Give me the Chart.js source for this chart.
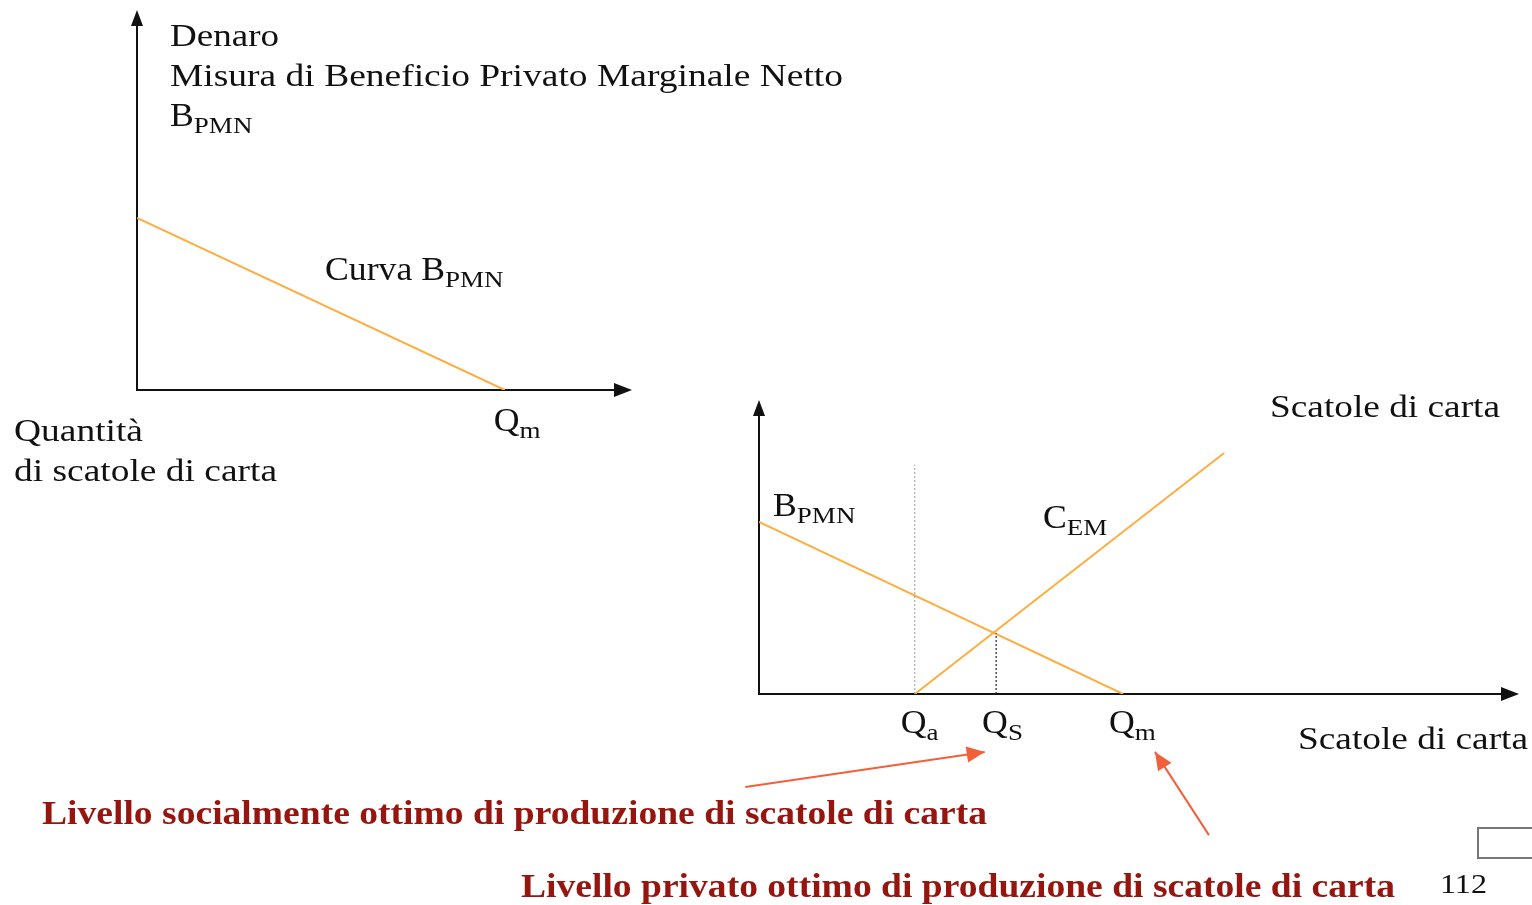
<!DOCTYPE html>
<html>
<head>
<meta charset="utf-8">
<script src="https://cdn.jsdelivr.net/npm/chart.js@4"></script>
<style>
  html, body { margin: 0; padding: 0; background: #fff; }
  #wrap { position: relative; width: 1532px; height: 905px; overflow: hidden; }
  canvas { position: absolute; left: 0; top: 0; }
</style>
</head>
<body>
<div id="wrap">
  <canvas id="topChart" width="1532" height="905"></canvas>
  <canvas id="botChart" width="1532" height="905"></canvas>
</div>
<script>
// ---- data (x = quantity, y = money) ----
const topBpmnQ = [0, 7.43];       // curva B_PMN, upper diagram
const topBpmnV = [4.53, 0];
const topQm = 7.43;

const botBpmnQ = [0, 4.79];       // B_PMN, lower diagram
const botBpmnV = [5.85, 0];
const cemQ = [2.05, 6.12];        // C_EM
const cemV = [0, 8.2];
const qaLineQ = [2.05, 2.05];     // dotted guide at Q_a
const qaLineV = [0, 7.8];
const qsLineQ = [3.12, 3.12];     // dotted guide at Q_S
const qsLineV = [0, 2.07];
const botTicks = [
  { q: 2.05, main: 'Q', sub: 'a' },
  { q: 3.12, main: 'Q', sub: 'S' },
  { q: 4.79, main: 'Q', sub: 'm' }
];
// red callout arrows, in lower-chart data units
const arrowSocial = { from: [-0.18, -3.16], to: [2.97, -1.97] };
const arrowPrivate = { from: [5.92, -4.8], to: [5.21, -1.97] };

const curveColor = '#ffad40';
const redText = '#96150f';
const arrowColor = '#f2603a';
const serif = '"Liberation Serif", "DejaVu Serif", serif';

function pts(xs, ys) {
  return xs.map((x, i) => ({ x: x, y: ys[i] }));
}

// text squeezed/stretched horizontally to a target width
function fitText(ctx, str, x, y, font, width, color) {
  ctx.save();
  ctx.font = font;
  ctx.fillStyle = color || '#111';
  ctx.textBaseline = 'alphabetic';
  const w = ctx.measureText(str).width;
  const k = width ? width / w : 1;
  ctx.translate(x, y);
  ctx.scale(k, 1);
  ctx.fillText(str, 0, 0);
  ctx.restore();
}

// main text with a subscript after it
function subText(ctx, main, sub, x, y) {
  ctx.save();
  ctx.fillStyle = '#111';
  ctx.textBaseline = 'alphabetic';
  ctx.translate(x, y);
  ctx.scale(1.05, 1);
  ctx.font = '34px ' + serif;
  ctx.fillText(main, 0, 0);
  const w = ctx.measureText(main).width;
  ctx.translate(w, 7);
  ctx.scale(1.12, 1);
  ctx.font = '23px ' + serif;
  ctx.fillText(sub, 0, 0);
  ctx.restore();
}

function arrowHead(ctx, x1, y1, x2, y2, len, half) {
  const a = Math.atan2(y2 - y1, x2 - x1);
  ctx.beginPath();
  ctx.moveTo(x2, y2);
  ctx.lineTo(x2 - len * Math.cos(a) + half * Math.sin(a), y2 - len * Math.sin(a) - half * Math.cos(a));
  ctx.lineTo(x2 - len * Math.cos(a) - half * Math.sin(a), y2 - len * Math.sin(a) + half * Math.cos(a));
  ctx.closePath();
  ctx.fill();
}

function drawAxes(chart) {
  const ctx = chart.ctx;
  const a = chart.chartArea;
  ctx.save();
  ctx.strokeStyle = '#111';
  ctx.fillStyle = '#111';
  ctx.lineWidth = 2;
  ctx.beginPath();
  ctx.moveTo(a.left, a.top + 10);
  ctx.lineTo(a.left, a.bottom);
  ctx.lineTo(a.right - 12, a.bottom);
  ctx.stroke();
  arrowHead(ctx, a.left, a.bottom, a.left, a.top, 16, 6);
  arrowHead(ctx, a.left, a.bottom, a.right, a.bottom, 18, 7);
  ctx.restore();
}

const hiddenScales = (xmax, ymax) => ({
  x: { type: 'linear', min: 0, max: xmax, display: false },
  y: { type: 'linear', min: 0, max: ymax, display: false }
});

const baseOpts = {
  responsive: false,
  animation: false,
  plugins: { legend: { display: false }, tooltip: { enabled: false } },
  elements: { point: { radius: 0 }, line: { tension: 0 } }
};

// ---- upper diagram ----
const topPlugin = {
  id: 'topDecor',
  beforeDatasetsDraw(chart) { drawAxes(chart); },
  afterDraw(chart) {
    const ctx = chart.ctx;
    const xs = chart.scales.x;
    fitText(ctx, 'Denaro', 170, 46, '31px ' + serif, 109);
    fitText(ctx, 'Misura di Beneficio Privato Marginale Netto', 170, 86, '31px ' + serif, 673);
    subText(ctx, 'B', 'PMN', 170, 126);
    subText(ctx, 'Curva B', 'PMN', 325, 280);
    subText(ctx, 'Q', 'm', xs.getPixelForValue(topQm) - 11, 431);
    fitText(ctx, 'Quantità', 14, 441, '31px ' + serif, 129);
    fitText(ctx, 'di scatole di carta', 14, 481, '31px ' + serif, 263);
  }
};

new Chart(document.getElementById('topChart'), {
  type: 'scatter',
  data: {
    datasets: [{
      data: pts(topBpmnQ, topBpmnV),
      showLine: true,
      borderColor: curveColor,
      borderWidth: 2
    }]
  },
  options: Object.assign({}, baseOpts, {
    layout: { padding: { left: 137, right: 1532 - 632, top: 10, bottom: 905 - 390 } },
    scales: hiddenScales(10, 10)
  }),
  plugins: [topPlugin]
});

// ---- lower diagram ----
const botPlugin = {
  id: 'botDecor',
  beforeDatasetsDraw(chart) { drawAxes(chart); },
  afterDraw(chart) {
    const ctx = chart.ctx;
    const xs = chart.scales.x, ys = chart.scales.y;
    fitText(ctx, 'Scatole di carta', 1270, 417, '31px ' + serif, 230);
    fitText(ctx, 'Scatole di carta', 1298, 749, '31px ' + serif, 230);
    subText(ctx, 'B', 'PMN', 773, 516);
    subText(ctx, 'C', 'EM', 1043, 528);
    botTicks.forEach(t => {
      subText(ctx, t.main, t.sub, xs.getPixelForValue(t.q) - 14, 733);
    });

    ctx.save();
    ctx.strokeStyle = arrowColor;
    ctx.fillStyle = arrowColor;
    ctx.lineWidth = 2;
    [arrowSocial, arrowPrivate].forEach(ar => {
      const x1 = xs.getPixelForValue(ar.from[0]), y1 = ys.getPixelForValue(ar.from[1]);
      const x2 = xs.getPixelForValue(ar.to[0]), y2 = ys.getPixelForValue(ar.to[1]);
      ctx.beginPath();
      ctx.moveTo(x1, y1);
      ctx.lineTo(x2, y2);
      ctx.stroke();
      arrowHead(ctx, x1, y1, x2, y2, 18, 8);
    });
    ctx.restore();

    fitText(ctx, 'Livello socialmente ottimo di produzione di scatole di carta', 42, 824,
      'bold 33px ' + serif, 945, redText);
    fitText(ctx, 'Livello privato ottimo di produzione di scatole di carta', 521, 897,
      'bold 33px ' + serif, 874, redText);
    fitText(ctx, '112', 1440, 893, '28px ' + serif, 47);

    // slide-frame remnant at the right edge
    ctx.save();
    ctx.strokeStyle = '#777';
    ctx.lineWidth = 2;
    ctx.strokeRect(1478, 828, 60, 30);
    ctx.restore();
  }
};

new Chart(document.getElementById('botChart'), {
  type: 'scatter',
  data: {
    datasets: [
      { data: pts(qaLineQ, qaLineV), showLine: true, borderColor: '#999', borderWidth: 1, borderDash: [2, 2] },
      { data: pts(qsLineQ, qsLineV), showLine: true, borderColor: '#222', borderWidth: 1.2, borderDash: [2, 2] },
      { data: pts(botBpmnQ, botBpmnV), showLine: true, borderColor: curveColor, borderWidth: 2 },
      { data: pts(cemQ, cemV), showLine: true, borderColor: curveColor, borderWidth: 2 }
    ]
  },
  options: Object.assign({}, baseOpts, {
    layout: { padding: { left: 759, right: 1532 - 1519, top: 400, bottom: 905 - 694 } },
    scales: hiddenScales(10, 10)
  }),
  plugins: [botPlugin]
});
</script>
</body>
</html>
